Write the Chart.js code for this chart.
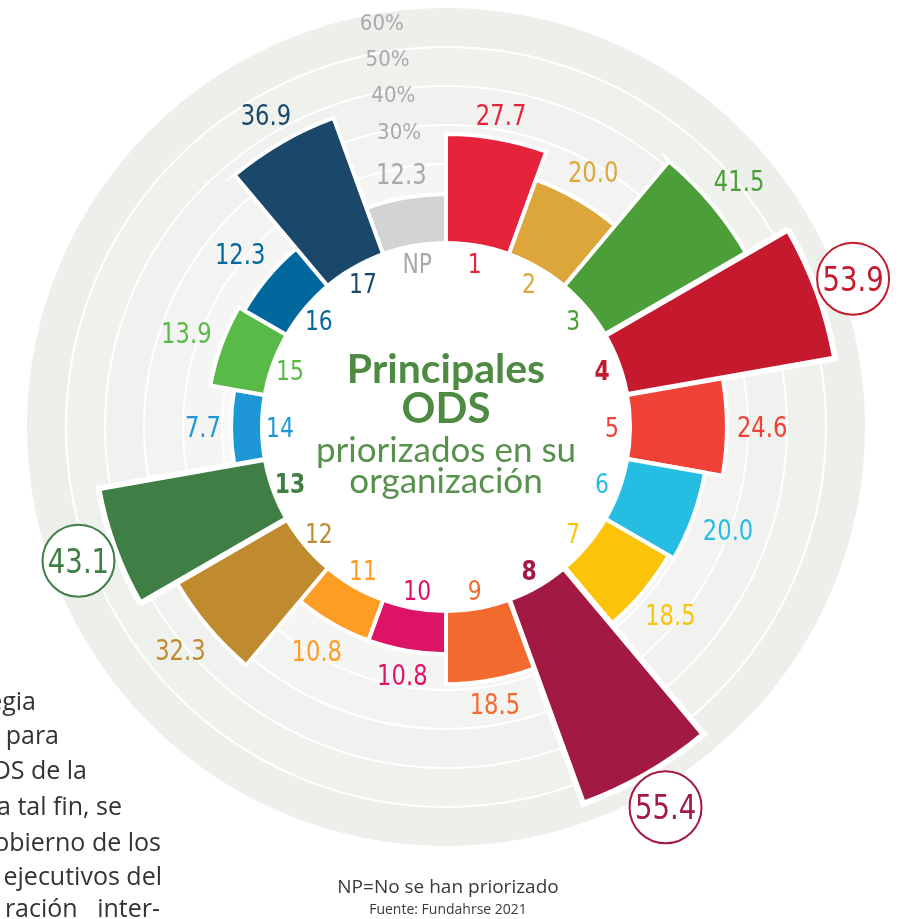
<!DOCTYPE html>
<html>
<head>
<meta charset="utf-8">
<script src="https://cdn.jsdelivr.net/npm/chart.js@4.4.0/dist/chart.umd.min.js"></script>
<style>
  html, body { margin: 0; padding: 0; background: #fff; }
  body { width: 899px; height: 919px; overflow: hidden; position: relative; }
  #box { position: absolute; left: 0; top: 0; width: 899px; height: 919px; }
  .para { position: absolute; white-space: nowrap; text-align: right; font: 25px "Open Sans", sans-serif; line-height: 34px; color: #333; }
  .note { position: absolute; left: 0; width: 896px; text-align: center; font-family: "Open Sans", sans-serif; color: #3a3a3a; }
</style>
</head>
<body>
<div id="box"><canvas id="ods"></canvas></div>

<div class="para" style="right:863px; top:683px;">egia</div>
<div class="para" style="right:840px; top:717px;">n para</div>
<div class="para" style="right:812px; top:752px;">DS de la</div>
<div class="para" style="right:777px; top:788px;">a tal fin, se</div>
<div class="para" style="right:738px; top:824px;">obierno de los</div>
<div class="para" style="right:737px; top:858px;">ejecutivos del</div>
<div class="para" style="right:739px; top:890px;">ración&nbsp;&nbsp;&nbsp;inter-</div>

<div class="note" style="top:877px; font-size:19px; line-height:19px;">NP=No se han priorizado</div>
<div class="note" style="top:902px; font-size:14px; line-height:14px;">Fuente: Fundahrse 2021</div>

<script>
(() => {
	const categories = ['NP', '1', '2', '3', '4', '5', '6', '7', '8', '9', '10', '11', '12', '13', '14', '15', '16', '17'];
	const values = [12.3, 27.7, 20.0, 41.5, 53.9, 24.6, 20.0, 18.5, 55.4, 18.5, 10.8, 10.8, 32.3, 43.1, 7.7, 13.9, 12.3, 36.9];
	const barColors = ['#d1d3d4', '#e5243b', '#dda63a', '#4c9f38', '#c5192d', '#ef4135', '#26bde2', '#fcc30b', '#a21942',
		'#f26a2e', '#dd1367', '#fd9d24', '#bf8b2e', '#3f7e44', '#1d97d6', '#5aba47', '#00689d', '#19486a'];
	const labelColors = ['#a7a9ac'].concat(barColors.slice(1));
	const highlighted = ['4', '8', '13'];

	const gridValues = [10, 20, 30, 40, 50];
	const tickValues = [30, 40, 50, 60];
	const tickLabels = ['30%', '40%', '50%', '60%'];
	const bandEdges = [0, 10, 20, 30, 40, 50, 60];
	const bandColors = ['#f8f9f6', '#f5f6f3', '#f3f4f1', '#f1f2ef', '#eff1ed', '#edefeb'];

	const NARROW = '"Liberation Sans Narrow", "DejaVu Sans Condensed", sans-serif';

	function narrowFont(size, weight) {
		return weight + ' ' + size + 'px ' + NARROW;
	}

	function drawNarrow(ctx, text, x, y, size, weight, color, sx) {
		ctx.save();
		ctx.translate(x, y);
		ctx.scale(sx || 0.9, 1);
		ctx.font = narrowFont(size, weight);
		ctx.fillStyle = color;
		ctx.textAlign = 'center';
		ctx.textBaseline = 'alphabetic';
		ctx.fillText(text, 0, size * 0.36);
		ctx.restore();
	}

	// grey rings behind the bars
	const bands = {
		id: 'bands',
		beforeDraw(chart) {
			const ctx = chart.ctx;
			const r = chart.scales.r;
			ctx.save();
			for (let i = bandEdges.length - 1; i > 0; i--) {
				ctx.beginPath();
				ctx.arc(r.xCenter, r.yCenter, r.getDistanceFromCenterForValue(bandEdges[i]), 0, Math.PI * 2);
				ctx.fillStyle = bandColors[i - 1];
				ctx.fill();
			}
			ctx.restore();
		}
	};

	// hole, labels, title
	const marks = {
		id: 'marks',
		afterDatasetsDraw(chart) {
			const ctx = chart.ctx;
			const r = chart.scales.r;
			const cx = r.xCenter, cy = r.yCenter;
			const hole = r.getDistanceFromCenterForValue(0) + 1;

			ctx.save();
			ctx.beginPath();
			ctx.arc(cx, cy, hole, 0, Math.PI * 2);
			ctx.fillStyle = '#ffffff';
			ctx.fill();
			ctx.restore();

			const r30 = r.getDistanceFromCenterForValue(tickValues[0]);
			tickValues.forEach((v, i) => {
				const d = r30 + (r.getDistanceFromCenterForValue(v) - r30) * 0.94 - 2;
				const a = -9 * Math.PI / 180;
				drawNarrow(ctx, tickLabels[i], cx + d * Math.sin(a), cy - d * Math.cos(a), 22, 'normal', '#a7a9ac', 1);
			});

			chart.getDatasetMeta(0).data.forEach((arc, i) => {
				const mid = (arc.startAngle + arc.endAngle) / 2;
				const ux = Math.cos(mid), uy = Math.sin(mid);
				const hot = highlighted.includes(categories[i]);
				const color = labelColors[i];

				const din = hole - 20;
				drawNarrow(ctx, categories[i], cx + din * ux, cy + din * uy, 27, hot ? 'bold' : 'normal', color);

				const txt = values[i].toFixed(1);
				if (hot) {
					const d = arc.outerRadius + 38;
					const x = cx + d * ux, y = cy + d * uy;
					ctx.save();
					ctx.beginPath();
					ctx.arc(x, y, 36, 0, Math.PI * 2);
					ctx.fillStyle = '#ffffff';
					ctx.fill();
					ctx.lineWidth = 2;
					ctx.strokeStyle = color;
					ctx.stroke();
					ctx.restore();
					drawNarrow(ctx, txt, x, y, 34, 'normal', color);
				} else {
					ctx.font = narrowFont(28, 'normal');
					const w = ctx.measureText(txt).width * 0.9;
					const ext = Math.abs(ux) * w / 2 + Math.abs(uy) * 10;
					const d = arc.outerRadius + 10 + ext;
					drawNarrow(ctx, txt, cx + d * ux, cy + d * uy, 28, 'normal', color);
				}
			});

			ctx.save();
			ctx.textAlign = 'center';
			ctx.textBaseline = 'alphabetic';
			ctx.fillStyle = '#4f8a43';
			ctx.font = 'bold 41px Lato, sans-serif';
			ctx.fillText('Principales', cx, cy - 44);
			ctx.font = 'bold 42px Lato, sans-serif';
			ctx.fillText('ODS', cx, cy - 4);
			ctx.fillStyle = '#58914d';
			ctx.font = '35px Lato, sans-serif';
			ctx.fillText('priorizados en su', cx, cy + 35);
			ctx.fillText('organización', cx, cy + 66);
			ctx.restore();
		}
	};

	const config = {
		type: 'polarArea',
		data: {
			labels: categories,
			datasets: [{
				data: values,
				backgroundColor: barColors,
				borderColor: '#ffffff',
				borderWidth: categories.map(c => highlighted.includes(c) ? 6 : 4),
				borderJoinStyle: 'miter'
			}]
		},
		options: {
			responsive: true,
			maintainAspectRatio: false,
			animation: false,
			layout: { padding: { left: 0, right: 7, top: 8, bottom: 73 } },
			plugins: {
				legend: { display: false },
				tooltip: { enabled: false }
			},
			scales: {
				r: {
					min: -47.44,
					max: 60,
					startAngle: -20,
					afterBuildTicks: scale => {
						scale.ticks = gridValues.map(v => ({ value: v }));
					},
					ticks: { display: false },
					grid: { color: '#ffffff', lineWidth: 2, circular: true },
					angleLines: { display: false },
					pointLabels: { display: false }
				}
			}
		},
		plugins: [bands, marks]
	};

	new Chart(document.getElementById('ods'), config);
})();
</script>
</body>
</html>
